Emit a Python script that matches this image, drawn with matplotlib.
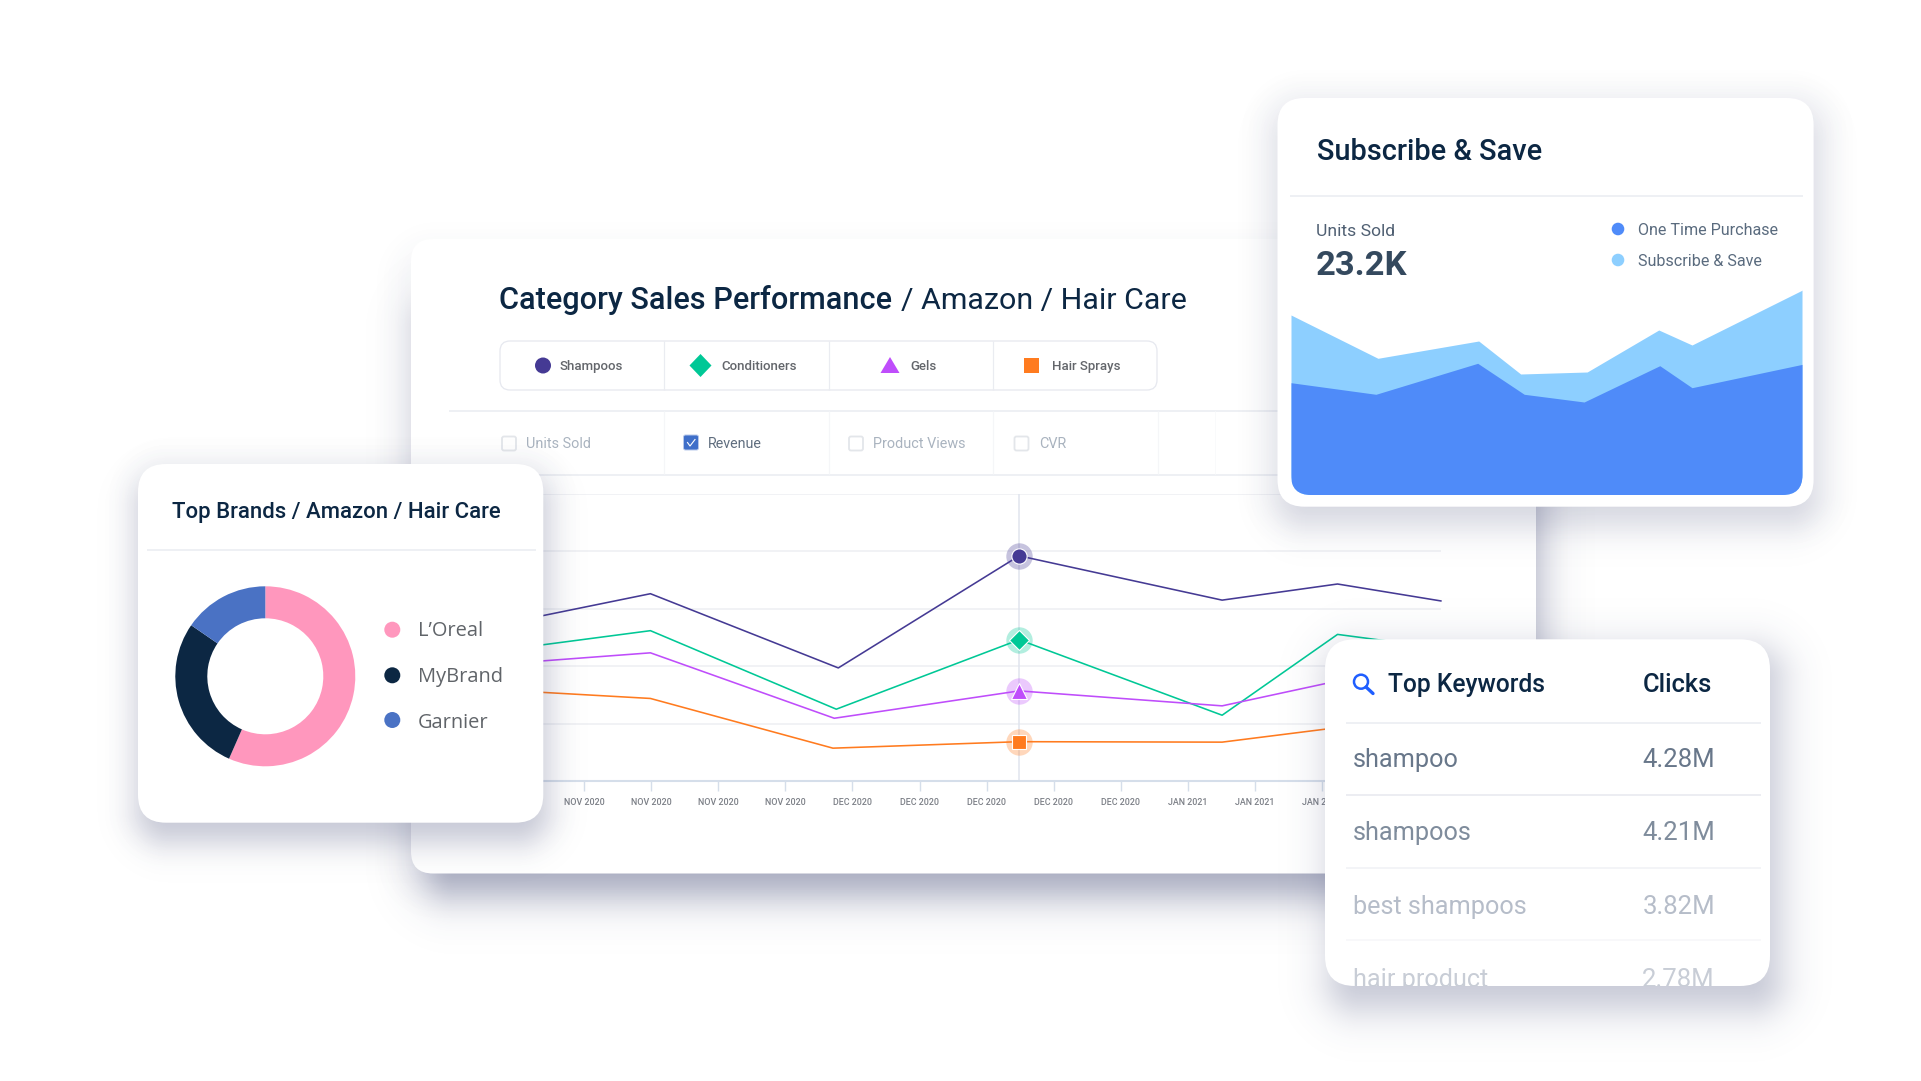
import numpy as np
import matplotlib
matplotlib.use("Agg")
import matplotlib.pyplot as plt
from matplotlib.patches import FancyBboxPatch, Circle, Rectangle, Polygon
from matplotlib.transforms import Bbox


# =========================================================
# DATA
# =========================================================
W, H = 1921, 1081

# line chart (one unit on x = one tick, one unit on y = one gridline step)
TICK_LABELS = ["NOV 2020"] * 4 + ["DEC 2020"] * 5 + ["JAN 2021"] * 3
SHAMPOO_X = [-1.1, 0.99, 3.79, 6.485, 9.51, 11.23, 12.77]
SHAMPOO_Y = [2.765, 3.263, 1.97, 3.923, 3.151, 3.432, 3.137]
COND_X = [-1.1, 0.99, 3.76, 6.485, 9.51, 11.23, 12.77]
COND_Y = [2.298, 2.619, 1.251, 2.461, 1.146, 2.554, 2.316]
GELS_X = [-1.1, 0.99, 3.73, 6.485, 9.51, 11.23, 12.77]
GELS_Y = [2.05, 2.233, 1.093, 1.57, 1.309, 1.743, 1.6]
SPRAY_X = [-1.1, 0.99, 3.71, 6.485, 9.51, 11.23, 12.77]
SPRAY_Y = [1.576, 1.438, 0.572, 0.685, 0.677, 0.93, 1.0]
HILITE = 3  # index of the highlighted point

# donut
BRANDS = ["L\u2019Oreal", "MyBrand", "Garnier"]
BRAND_SHARE = [56.6, 28.0, 15.4]

# area chart
SAVE_X = [0, 17.0, 36.7, 44.9, 57.9, 71.9, 78.4, 100]
SAVE_Y = [180, 136.7, 154, 121, 123, 165, 150, 205]
ONCE_X = [0, 16.6, 36.5, 45.6, 57.3, 72.1, 78.4, 100]
ONCE_Y = [112.3, 100.7, 131.7, 100.7, 93, 129.3, 107.3, 130.7]

# keywords table
KEYWORDS = ["shampoo", "shampoos", "best shampoos", "hair product"]
CLICKS = ["4.28M", "4.21M", "3.82M", "2.78M"]

SERIES = ["Shampoos", "Conditioners", "Gels", "Hair Sprays"]
METRICS = ["Units Sold", "Revenue", "Product Views", "CVR"]

# =========================================================
# STYLE
# =========================================================
PURPLE = "#453a94"
GREEN = "#00c896"
MAGENTA = "#bf4dfb"
ORANGE = "#ff7b1f"
NAVY = "#0c2743"
PINK = "#ff97bd"
BLUE = "#4a72c4"
AREA_DARK = "#4f8bf9"
AREA_LIGHT = "#8dcfff"
RULE = "#eef0f4"
FONT = "Roboto"


# =========================================================
# HELPERS
# =========================================================
def px_axes(fig, x0, y0, x1, y1, zorder):
    ax = fig.add_axes([x0 / W, 1 - y1 / H, (x1 - x0) / W, (y1 - y0) / H], zorder=zorder)
    ax.patch.set_visible(False)
    return ax


def txt(ax, x, y, s, px, color, weight="normal", family=FONT, **kw):
    return ax.text(x, y, s, fontsize=px * 0.72, color=color, fontweight=weight,
                   family=family, va="baseline", ha=kw.pop("ha", "left"), **kw)


def shadow(ax, x0, y0, x1, y1, r, blur, alpha, color="#3a4270"):
    pad = int(blur * 3)
    left, right = int(x0 - pad), int(x1 + pad)
    top, bottom = int(y0 - pad), int(y1 + pad)
    xs, ys = np.meshgrid(np.arange(left, right) + 0.5, np.arange(top, bottom) + 0.5)
    cx, cy = (x0 + x1) / 2, (y0 + y1) / 2
    qx = np.abs(xs - cx) - ((x1 - x0) / 2 - r)
    qy = np.abs(ys - cy) - ((y1 - y0) / 2 - r)
    dist = np.hypot(np.maximum(qx, 0), np.maximum(qy, 0)) + np.minimum(np.maximum(qx, qy), 0) - r
    rgba = np.zeros(xs.shape + (4,))
    rgba[..., :3] = matplotlib.colors.to_rgb(color)
    rgba[..., 3] = alpha * 0.5 * (1 - np.tanh(dist / blur))
    ax.imshow(rgba, extent=(left, right, bottom, top), aspect="auto",
              interpolation="bilinear", zorder=1)


def card(ax, x0, y0, x1, y1, r):
    patch = FancyBboxPatch((x0 + r, y0 + r), x1 - x0 - 2 * r, y1 - y0 - 2 * r,
                           boxstyle=f"round,pad={r},rounding_size={r}",
                           fc="white", ec="none", zorder=2)
    ax.add_patch(patch)
    return patch


def hline(ax, x0, x1, y, color=RULE, lw=2.0):
    ax.plot([x0, x1], [y, y], color=color, lw=lw * 0.72, zorder=3, solid_capstyle="butt")


def vline(ax, x, y0, y1, color=RULE, lw=1.5):
    ax.plot([x, x], [y0, y1], color=color, lw=lw * 0.72, zorder=3, solid_capstyle="butt")


def pixel_layer(fig, zorder):
    ax = px_axes(fig, 0, 0, W, H, zorder)
    ax.set_axis_off()
    return ax


def freeze(ax):
    ax.set_xlim(0, W)
    ax.set_ylim(H, 0)


# =========================================================
# MAIN CARD
# =========================================================
def draw_main(fig):
    ax = pixel_layer(fig, 0)
    shadow(ax, 425, 300, 1536, 895, 30, 25, 0.45)
    shadow(ax, 395, 240, 1550, 900, 40, 16, 0.04)
    card(ax, 411, 239, 1536, 873.5, 22)

    txt(ax, 499, 309, "Category Sales Performance", 30.7, NAVY, weight="medium", zorder=4)
    txt(ax, 901, 309, "/ Amazon / Hair Care", 30.4, NAVY, zorder=4)

    # legend strip
    strip = FancyBboxPatch((510, 351), 637, 29, boxstyle="round,pad=10,rounding_size=10",
                           fc="white", ec="#e6e8ef", lw=0.9, zorder=3)
    ax.add_patch(strip)
    for x in [663.7, 828.5, 993]:
        vline(ax, x, 341, 390, color="#eaecf1", lw=1.2)

    ax.add_patch(Circle((543, 365.5), 8, fc=PURPLE, zorder=4))
    ax.add_patch(Polygon([[700.5, 354], [711.5, 365.5], [700.5, 377], [689.5, 365.5]], fc=GREEN, zorder=4))
    ax.add_patch(Polygon([[890, 357], [899.5, 373], [880.5, 373]], fc=MAGENTA, zorder=4))
    ax.add_patch(Rectangle((1024, 358), 15, 15, fc=ORANGE, zorder=4))
    for x, s in zip([560, 721.5, 910.5, 1051.5], SERIES):
        txt(ax, x, 370, s, 13.3, "#63666b", weight="medium", zorder=4)

    # metric row
    hline(ax, 449, 1290, 410.5)
    hline(ax, 449, 1290, 474.5)
    for x in [663.7, 828.5, 993, 1157.7]:
        vline(ax, x, 411, 474, color="#f5f6f8", lw=1.2)
    vline(ax, 1215, 411, 474, color="#f9fafb", lw=1.0)

    for x, tx, s in zip([509, 691, 856, 1021.5], [526.5, 708, 873, 1039], METRICS):
        if s == "Revenue":
            ax.add_patch(FancyBboxPatch((686, 437.5), 10, 10, boxstyle="round,pad=2.5,rounding_size=2",
                                        fc="#3f6fc9", ec="#b7c8ea", lw=0.7, zorder=4))
            ax.plot([687.5, 690, 695], [442.5, 446, 439.5], color="white", lw=0.8, zorder=5)
            txt(ax, tx, 447.5, s, 14.2, "#5f6d7e", zorder=4)
        else:
            ax.add_patch(FancyBboxPatch((x - 5, 438.5), 10, 10, boxstyle="round,pad=2,rounding_size=2",
                                        fc="white", ec="#e3e6ea", lw=1.3, zorder=4))
            txt(ax, tx, 448, s, 14.4, "#a9b3bf", zorder=4)
    freeze(ax)


def draw_lines(fig):
    x0, x1 = 449, 1441
    ax = px_axes(fig, x0, 494, x1, 781, 1)
    ax.set_xlim((x0 - 584) / 67.1, (x1 - 584) / 67.1)
    ax.set_ylim(0, 5)

    for spine in ["top", "left", "right"]:
        ax.spines[spine].set_visible(False)
    ax.spines["bottom"].set_color("#d5deea")
    ax.spines["bottom"].set_linewidth(1.5)
    ax.set_yticks(range(1, 6))
    ax.tick_params(axis="y", length=0, labelleft=False)
    ax.grid(True, axis="y", color="#f1f2f5", lw=1.4)
    ax.set_axisbelow(True)
    ax.set_xticks(range(len(TICK_LABELS)))
    ax.set_xticklabels(TICK_LABELS, fontsize=8.9 * 0.72, color="#7b7f86",
                       fontweight="medium", family=FONT)
    ax.tick_params(axis="x", length=7, width=1.0, color="#d5deea", pad=5.2)

    hx = SHAMPOO_X[HILITE]
    ax.axvline(hx, color="#e0e4ee", lw=1.1, zorder=1)

    styles = [
        (SHAMPOO_X, SHAMPOO_Y, PURPLE, "o", 11.0),
        (COND_X, COND_Y, GREEN, "D", 10.2),
        (GELS_X, GELS_Y, MAGENTA, "^", 12.0),
        (SPRAY_X, SPRAY_Y, ORANGE, "s", 10.2),
    ]
    for xs, ys, color, marker, ms in styles:
        ax.plot(xs, ys, color=color, lw=1.15, zorder=2, clip_on=False)
        ax.plot(xs[HILITE], ys[HILITE], marker="o", ms=19, mec="none", mfc=color,
                alpha=0.3, zorder=3, clip_on=False)
        ax.plot(xs[HILITE], ys[HILITE], marker=marker, ms=ms, mec="white", mew=0.8,
                mfc=color, zorder=4, clip_on=False)


# =========================================================
# OVERLAY CARDS
# =========================================================
def draw_overlay(fig):
    ax = pixel_layer(fig, 2)

    # Top brands
    shadow(ax, 140, 480, 545, 840, 30, 20, 0.28)
    shadow(ax, 125, 455, 560, 850, 40, 14, 0.04)
    card(ax, 138, 464, 543.3, 822.7, 28)
    txt(ax, 172, 518.3, "Top Brands / Amazon / Hair Care", 22.1, NAVY, weight="medium", zorder=4)
    hline(ax, 147, 535.5, 549.7)
    for y, by, s, c in zip([629.7, 675.3, 720], [636, 682, 727.5], BRANDS, [PINK, NAVY, BLUE]):
        ax.add_patch(Circle((392.3, y), 8, fc=c, zorder=4))
        txt(ax, 418, by, s, 20.0, "#606469", family="Open Sans", zorder=4)

    # Subscribe & Save
    shadow(ax, 1280, 115, 1815, 525, 30, 22, 0.18)
    shadow(ax, 1262, 90, 1833, 530, 40, 16, 0.05)
    card(ax, 1277.5, 98, 1813.6, 506.7, 27)
    txt(ax, 1317, 160, "Subscribe & Save", 29, NAVY, weight="medium", zorder=4)
    hline(ax, 1290, 1803, 195.7)
    txt(ax, 1316, 235.5, "Units Sold", 17.5, "#4f5f72", zorder=4)
    txt(ax, 1316, 275, "23.2K", 34.5, "#34495e", weight="bold", zorder=4)
    for y, by, s, c in zip([229, 260], [235, 266], ["One Time Purchase", "Subscribe & Save"],
                           [AREA_DARK, AREA_LIGHT]):
        ax.add_patch(Circle((1618, y), 6.3, fc=c, zorder=4))
        txt(ax, 1638, by, s, 16.1, "#5a6b7e", zorder=4)

    # Top keywords
    shadow(ax, 1330, 650, 1780, 1010, 30, 24, 0.30)
    card(ax, 1325, 639.3, 1770, 986, 30)
    ax.add_patch(Circle((1361, 681.7), 7, fc="none", ec="#1f5eff", lw=1.8, zorder=4))
    ax.plot([1366, 1373], [687, 693.5], color="#1f5eff", lw=2.4, zorder=4, solid_capstyle="round")
    txt(ax, 1387.7, 692, "Top Keywords", 24.6, NAVY, weight="medium", zorder=4)
    txt(ax, 1643, 692, "Clicks", 25.5, NAVY, weight="medium", zorder=4)
    hline(ax, 1345.7, 1760.7, 723, lw=2.0)
    hline(ax, 1345.7, 1760.7, 795, color="#e6e8ee", lw=1.5)
    hline(ax, 1345.7, 1760.7, 867.7, color="#f0f1f5", lw=1.5)
    hline(ax, 1345.7, 1760.7, 940, color="#f6f7f9", lw=1.5)

    clip = Bbox([[1325, H - 986], [1770, H - 639]])
    colors = ["#68778a", "#7f8c9c", "#b6bdc9", "#c8cdd6"]
    for y, kw, val, c in zip([766.7, 840.3, 914.3, 986.7], KEYWORDS, CLICKS, colors):
        for x, s, size in [(1352.7, kw, 25.2), (1642.3, val, 25.7)]:
            t = txt(ax, x, y, s, size, c, zorder=4)
            t.set_clip_box(clip)
            t.set_clip_on(True)
    freeze(ax)
    return ax


def draw_donut(fig):
    cx, cy, r = 265.3, 676.3, 90
    ax = px_axes(fig, cx - r, cy - r, cx + r, cy + r, 3)
    ax.pie(BRAND_SHARE, colors=[PINK, NAVY, BLUE], startangle=90, counterclock=False,
           radius=1, wedgeprops={"width": 32 / 90, "linewidth": 0})
    ax.set_xlim(-1, 1)
    ax.set_ylim(-1, 1)


def draw_area(fig, overlay):
    ax = px_axes(fig, 1291, 250, 1802.5, 495, 3)
    ax.set_xlim(0, 100)
    ax.set_ylim(0, 245)
    ax.set_axis_off()
    clip = FancyBboxPatch((1311, 230), 471.5, 245, boxstyle="round,pad=20,rounding_size=20",
                          transform=overlay.transData)
    for xs, ys, c in [(SAVE_X, SAVE_Y, AREA_LIGHT), (ONCE_X, ONCE_Y, AREA_DARK)]:
        poly = ax.fill_between(xs, 0, ys, color=c, lw=0)
        poly.set_clip_path(clip)


def main():
    fig = plt.figure(figsize=(W / 100, H / 100), dpi=100, facecolor="white")
    draw_main(fig)
    draw_lines(fig)
    overlay = draw_overlay(fig)
    draw_donut(fig)
    draw_area(fig, overlay)
    fig.savefig("out.png", dpi=100, facecolor="white")
    plt.close(fig)


if __name__ == "__main__":
    main()
